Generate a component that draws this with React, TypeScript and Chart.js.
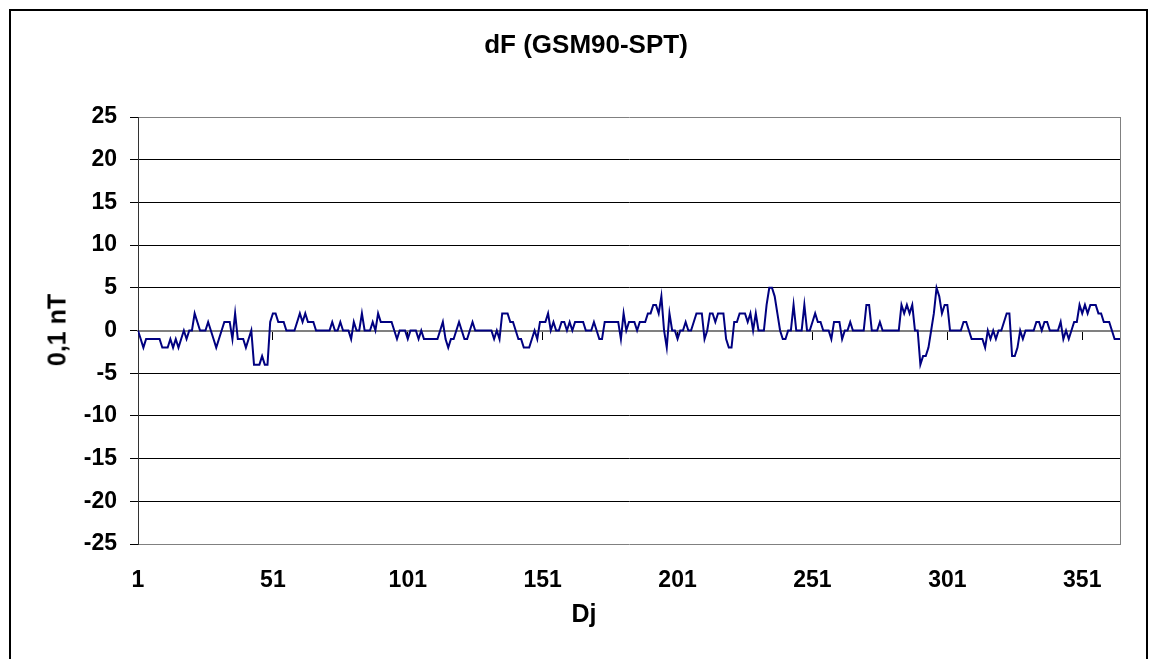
import React, { useEffect, useRef } from "react";
import { Chart, registerables } from "chart.js";

Chart.register(...registerables);

// dF values (0.1 nT) for day 1..365
const dF: number[] = [
  0, -1, -2, -1, -1, -1, -1, -1, -1, -2,
  -2, -2, -1, -2, -1, -2, -1, 0, -1, 0,
  0, 2, 1, 0, 0, 0, 1, 0, -1, -2,
  -1, 0, 1, 1, 1, -1, 2, -1, -1, -1,
  -2, -1, 0, -4, -4, -4, -3, -4, -4, 1,
  2, 2, 1, 1, 1, 0, 0, 0, 0, 1,
  2, 1, 2, 1, 1, 1, 0, 0, 0, 0,
  0, 0, 1, 0, 0, 1, 0, 0, 0, -1,
  1, 0, 0, 2, 0, 0, 0, 1, 0, 2,
  1, 1, 1, 1, 1, 0, -1, 0, 0, 0,
  -1, 0, 0, 0, -1, 0, -1, -1, -1, -1,
  -1, -1, 0, 1, -1, -2, -1, -1, 0, 1,
  0, -1, -1, 0, 1, 0, 0, 0, 0, 0,
  0, 0, -1, 0, -1, 2, 2, 2, 1, 1,
  0, -1, -1, -2, -2, -2, -1, 0, -1, 1,
  1, 1, 2, 0, 1, 0, 0, 1, 1, 0,
  1, 0, 1, 1, 1, 1, 0, 0, 0, 1,
  0, -1, -1, 1, 1, 1, 1, 1, 1, -1,
  2, 0, 1, 1, 1, 0, 1, 1, 1, 2,
  2, 3, 3, 2, 4, 0, -2, 2, 0, 0,
  -1, 0, 0, 1, 0, 0, 1, 2, 2, 2,
  -1, 0, 2, 2, 1, 2, 2, 2, -1, -2,
  -2, 1, 1, 2, 2, 2, 1, 2, 0, 2,
  0, 0, 0, 3, 5, 5, 4, 2, 0, -1,
  -1, 0, 0, 3, 0, 0, 0, 3, 0, 0,
  1, 2, 1, 1, 0, 0, 0, -1, 1, 1,
  1, -1, 0, 0, 1, 0, 0, 0, 0, 0,
  3, 3, 0, 0, 0, 1, 0, 0, 0, 0,
  0, 0, 0, 3, 2, 3, 2, 3, 0, 0,
  -4, -3, -3, -2, 0, 2, 5, 4, 2, 3,
  3, 0, 0, 0, 0, 0, 1, 1, 0, -1,
  -1, -1, -1, -1, -2, 0, -1, 0, -1, 0,
  0, 1, 2, 2, -3, -3, -2, 0, -1, 0,
  0, 0, 0, 1, 1, 0, 1, 1, 0, 0,
  0, 0, 1, -1, 0, -1, 0, 1, 1, 3,
  2, 3, 2, 3, 3, 3, 2, 2, 1, 1,
  1, 0, -1, -1, -1,
];

const days: number[] = dF.map((_, i) => i + 1);
const xTickLabels: number[] = [1, 51, 101, 151, 201, 251, 301, 351];
const yTicks: number[] = [-25, -20, -15, -10, -5, 0, 5, 10, 15, 20, 25];

const FONT = "'Liberation Sans', Arial, Helvetica, sans-serif";

export default function App() {
  const ref = useRef<HTMLCanvasElement | null>(null);

  useEffect(() => {
    if (!ref.current) return;
    const tickFont = { family: FONT, size: 23, weight: "bold" as const };
    const setXTicks = (s: any) => {
      s.ticks = xTickLabels.map((v) => ({ value: v }));
    };
    const chart = new Chart(ref.current, {
      type: "line",
      data: {
        datasets: [
          {
            data: days.map((d, i) => ({ x: d, y: dF[i] })),
            borderColor: "#000080",
            borderWidth: 2,
            pointRadius: 0,
            tension: 0,
            fill: false,
            xAxisID: "x",
            yAxisID: "y",
          },
        ],
      },
      options: {
        responsive: false,
        animation: false,
        layout: { padding: { left: 0, top: 117, right: 0, bottom: 0 } },
        plugins: {
          legend: { display: false },
          tooltip: { enabled: false },
          title: { display: false },
        },
        scales: {
          x: {
            type: "linear",
            position: "bottom",
            min: 1,
            max: days.length,
            afterBuildTicks: setXTicks,
            afterFit: (s: any) => {
              s.height = 115;
            },
            grid: { display: false, drawTicks: false },
            border: { display: false },
            ticks: {
              color: "#000",
              font: tickFont,
              padding: 23,
              maxRotation: 0,
              autoSkip: false,
            },
          },
          xZero: {
            type: "linear",
            position: { y: 0 } as any,
            min: 1,
            max: days.length,
            afterBuildTicks: setXTicks,
            grid: {
              drawOnChartArea: false,
              drawTicks: true,
              tickLength: 8,
              color: "#000",
            },
            border: { color: "#808080", width: 2 },
            ticks: { display: false },
          },
          y: {
            type: "linear",
            position: "left",
            min: -25,
            max: 25,
            afterBuildTicks: (s: any) => {
              s.ticks = yTicks.map((v) => ({ value: v }));
            },
            afterFit: (s: any) => {
              s.width = 138;
            },
            ticks: { color: "#000", font: tickFont, padding: 13 },
            grid: {
              color: (ctx: any) =>
                ctx.tick && (ctx.tick.value === 25 || ctx.tick.value === -25 || ctx.tick.value === 0)
                  ? "#808080"
                  : "#000",
              tickColor: "#000",
              tickLength: 8,
              lineWidth: 1,
            },
            border: { color: "#333", width: 1 },
          },
          yRight: {
            type: "linear",
            position: "right",
            min: -25,
            max: 25,
            ticks: { display: false },
            grid: { display: false },
            afterFit: (s: any) => {
              s.width = 29;
            },
            border: { color: "#808080", width: 1 },
          },
        },
      },
    } as any);
    return () => chart.destroy();
  }, []);

  const textStyle: React.CSSProperties = {
    position: "absolute",
    fontFamily: FONT,
    fontWeight: "bold",
    color: "#000",
    whiteSpace: "nowrap",
    lineHeight: "normal",
  };

  return (
    <div
      style={{
        position: "fixed",
        left: 0,
        top: 0,
        width: 1149,
        height: 659,
        overflow: "hidden",
        background: "#fff",
      }}
    >
      <div
        style={{
          position: "absolute",
          left: 9,
          top: 9,
          width: 1135,
          height: 700,
          border: "2px solid #000",
        }}
      />
      <canvas
        ref={ref}
        width={1149}
        height={659}
        style={{ position: "absolute", left: 0, top: 0, width: 1149, height: 659 }}
      />
      <div
        style={{
          ...textStyle,
          left: 586,
          top: 44,
          fontSize: 26,
          transform: "translate(-50%, -50%)",
        }}
      >
        dF (GSM90-SPT)
      </div>
      <div
        style={{
          ...textStyle,
          left: 584,
          top: 613,
          fontSize: 25,
          transform: "translate(-50%, -50%)",
        }}
      >
        Dj
      </div>
      <div
        style={{
          ...textStyle,
          left: 57,
          top: 330,
          fontSize: 25,
          transform: "translate(-50%, -50%) rotate(-90deg)",
        }}
      >
        0,1 nT
      </div>
    </div>
  );
}
